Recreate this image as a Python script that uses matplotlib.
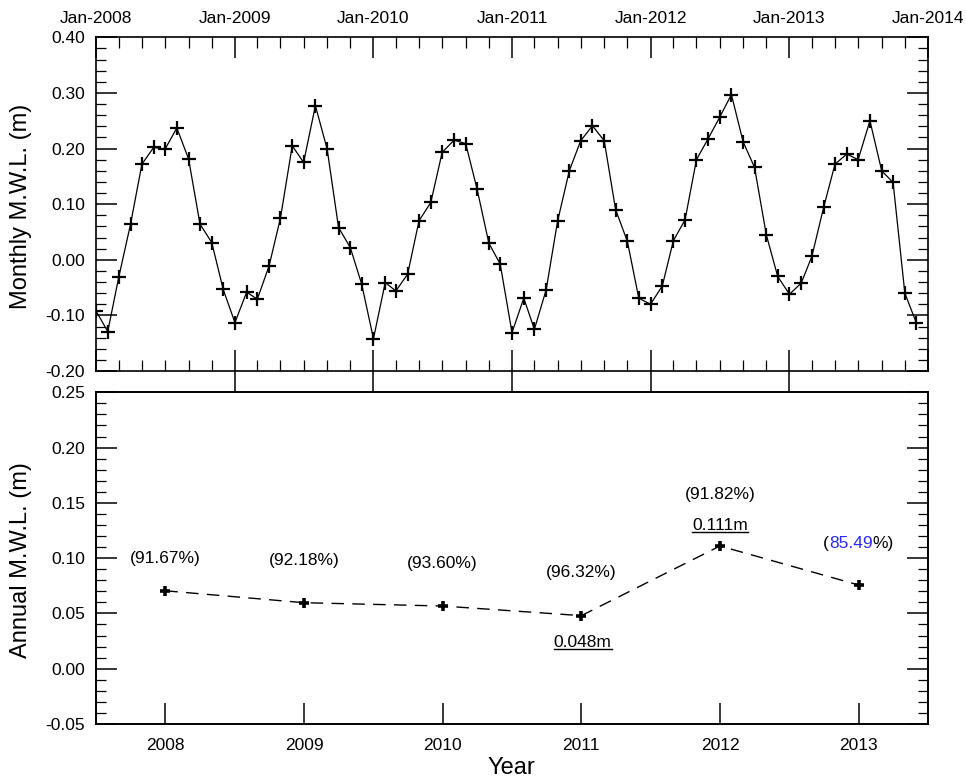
import matplotlib
matplotlib.use('Agg')
import matplotlib.pyplot as plt
import matplotlib.dates as mdates
from matplotlib.ticker import MultipleLocator, FormatStrFormatter
from matplotlib.lines import Line2D
import numpy as np
import pandas as pd

plt.rcParams['font.family'] = ['Liberation Sans', 'DejaVu Sans']
plt.rcParams['axes.unicode_minus'] = False

# monthly mean water level (m), Jan-2008 .. Dec-2013
monthly = [
    -0.092, -0.129, -0.031, 0.064, 0.172, 0.202, 0.199, 0.237, 0.181, 0.064, 0.031, -0.053,
    -0.113, -0.058, -0.071, -0.011, 0.075, 0.205, 0.175, 0.277, 0.199, 0.058, 0.022, -0.044,
    -0.142, -0.041, -0.056, -0.026, 0.070, 0.103, 0.193, 0.215, 0.209, 0.127, 0.030, -0.008,
    -0.131, -0.069, -0.125, -0.054, 0.069, 0.160, 0.214, 0.241, 0.214, 0.090, 0.033, -0.069,
    -0.080, -0.047, 0.034, 0.072, 0.180, 0.218, 0.256, 0.297, 0.212, 0.166, 0.045, -0.030,
    -0.062, -0.042, 0.006, 0.094, 0.172, 0.190, 0.180, 0.250, 0.160, 0.139, -0.060, -0.113,
]
months = pd.date_range('2008-01-01', periods=len(monthly), freq='MS')

# annual mean water level (m)
years = np.array([2008, 2009, 2010, 2011, 2012, 2013])
annual = [0.0705, 0.0597, 0.0567, 0.048, 0.111, 0.0757]
coverage = ['91.67', '92.18', '93.60', '96.32', '91.82', '85.49']
cov_y = [0.100, 0.0975, 0.0955, 0.087, 0.158, 0.113]

px = 72 / 100  # points per pixel at dpi 100
W, H = 966, 778
fig = plt.figure(figsize=(W / 100, H / 100), dpi=100)

ax1 = fig.add_axes([96 / W, 1 - 371 / H, 832 / W, 333.7 / H])
ax2 = fig.add_axes([96 / W, 1 - 724 / H, 832 / W, 331.7 / H])

tfs = 12.5  # tick label size

# ---- top panel: monthly
ax1.plot(months, monthly, color='k', lw=0.9, marker='+', ms=9.5, mew=1.6)
ax1.set_xlim(pd.Timestamp('2008-01-01'), pd.Timestamp('2014-01-01'))
ax1.set_ylim(-0.20, 0.40)
ax1.xaxis.set_major_locator(mdates.YearLocator())
ax1.xaxis.set_major_formatter(mdates.DateFormatter('%b-%Y'))
ax1.xaxis.set_minor_locator(mdates.MonthLocator(bymonth=[3, 5, 7, 9, 11]))
ax1.yaxis.set_major_locator(MultipleLocator(0.1))
ax1.yaxis.set_minor_locator(MultipleLocator(0.02))
ax1.yaxis.set_major_formatter(FormatStrFormatter('%.2f'))
ax1.tick_params(axis='x', which='both', direction='in', top=True, bottom=True,
                labeltop=True, labelbottom=False)
ax1.tick_params(axis='y', which='both', direction='in', left=True, right=True)
ax1.tick_params(which='major', length=21 * px, width=1.1, labelsize=tfs, pad=8)
ax1.tick_params(axis='x', which='minor', length=11 * px, width=0.9)
ax1.tick_params(axis='y', which='minor', length=10 * px, width=0.9)

# ---- bottom panel: annual
ax2.plot(years, annual, color='k', lw=1.0, ls=(0, (9, 6)), marker='+', ms=6.5, mew=2.6)
ax2.set_xlim(2007.5, 2013.5)
ax2.set_ylim(-0.05, 0.25)
ax2.set_xticks(years)
ax2.yaxis.set_major_locator(MultipleLocator(0.05))
ax2.yaxis.set_minor_locator(MultipleLocator(0.01))
ax2.yaxis.set_major_formatter(FormatStrFormatter('%.2f'))
ax2.tick_params(axis='x', which='major', direction='in', length=21 * px, width=1.1,
                labelsize=tfs, pad=10)
ax2.tick_params(axis='y', which='both', direction='in', left=True, right=True)
ax2.tick_params(axis='y', which='major', length=21 * px, width=1.1, labelsize=tfs, pad=8)
ax2.tick_params(axis='y', which='minor', length=10 * px, width=0.9)

# strip ticks between the panels at year boundaries
axt = ax2.twiny()
axt.set_xlim(ax2.get_xlim())
axt.set_xticks(years[:-1] + 0.5)
axt.set_xticklabels([])
axt.tick_params(axis='x', direction='out', length=21 * px, width=1.1)

for a in (ax1, ax2, axt):
    for s in a.spines.values():
        s.set_linewidth(1.2)

# coverage annotations
fs = 12.5
for i, (yr, c, cy) in enumerate(zip(years, coverage, cov_y)):
    if i < 5:
        ax2.text(yr, cy, '(' + c + '%)', ha='center', va='center', fontsize=fs)
    else:
        t0 = ax2.text(yr, cy, '(' + c + '%)', ha='center', va='center', fontsize=fs, alpha=0)
        t1 = ax2.annotate('(', xy=(0, 0), xycoords=t0, ha='left', va='bottom', fontsize=fs)
        t2 = ax2.annotate(c, xy=(1, 0), xycoords=t1, ha='left', va='bottom',
                          fontsize=fs, color='#2a2aff')
        ax2.annotate('%)', xy=(1, 0), xycoords=t2, ha='left', va='bottom', fontsize=fs)

lab_max = ax2.text(2012.0, 0.1295, '0.111m', ha='center', va='center', fontsize=fs)
lab_min = ax2.text(2011.01, 0.0237, '0.048m', ha='center', va='center', fontsize=fs)

fig.text(21 / W, 1 - 206 / H, 'Monthly M.W.L. (m)', rotation=90, ha='center', va='center',
         fontsize=17)
fig.text(21 / W, 1 - 560 / H, 'Annual M.W.L. (m)', rotation=90, ha='center', va='center',
         fontsize=17)
fig.text(511 / W, 1 - 774 / H, 'Year', ha='center', va='baseline', fontsize=17)

# underline the max / min labels
fig.canvas.draw()
r = fig.canvas.get_renderer()
for t in (lab_max, lab_min):
    bb = t.get_window_extent(r)
    yline = bb.y0 + 1
    fig.add_artist(Line2D([bb.x0 / W, bb.x1 / W], [yline / H, yline / H],
                          color='k', lw=1.0))

fig.savefig('out.png', dpi=100)
